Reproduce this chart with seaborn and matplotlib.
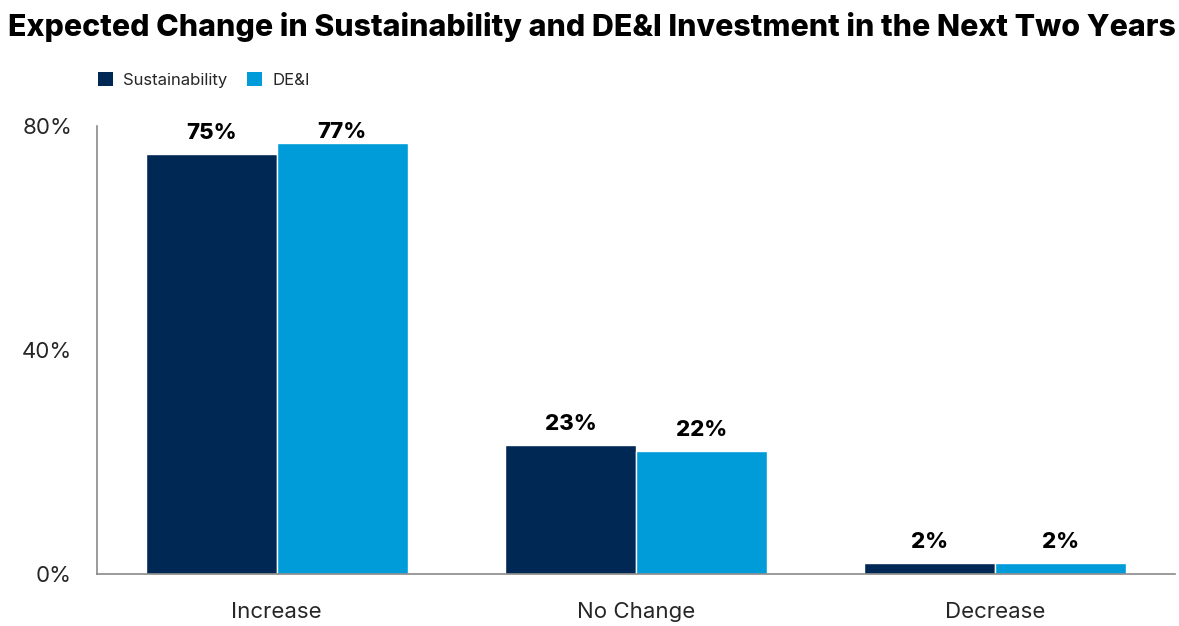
import matplotlib
matplotlib.use("Agg")
import matplotlib.pyplot as plt
import seaborn as sns
import pandas as pd
from matplotlib.patches import Patch

categories = ["Increase", "No Change", "Decrease"]
series_names = ["Sustainability", "DE&I"]
sustainability = [75, 23, 2]
dei = [77, 22, 2]
y_ticks = [0, 40, 80]
y_tick_labels = ["0%", "40%", "80%"]
colors = ["#002855", "#009CDA"]

df = pd.DataFrame({
    "category": categories * 2,
    "series": [series_names[0]] * 3 + [series_names[1]] * 3,
    "value": sustainability + dei,
})

sns.set_theme(style="white")
plt.rcParams['font.family'] = ['Inter', 'DejaVu Sans']

fig = plt.figure(figsize=(11.79, 6.26), dpi=100)
ax = fig.add_axes([97/1179, 1 - 574/626, (1175-97)/1179, (574-126)/626])

sns.barplot(data=df, x="category", y="value", hue="series", order=categories,
            hue_order=series_names, palette=colors, width=0.73, ax=ax,
            edgecolor="white", linewidth=1, legend=False, saturation=1)

# value labels; kept inside the plot area near the top like the original
for container in ax.containers:
    for bar, v in zip(container, container.datavalues):
        xc = bar.get_x() + bar.get_width() / 2
        ax.annotate(f"{v:.0f}%", xy=(xc, min(v, 75.2)), xytext=(0, 15),
                    textcoords="offset points", ha="center", va="center",
                    fontsize=16, fontweight="heavy", color="black")

ax.set_xlim(-0.5, 2.5)
ax.set_ylim(0, 80)
ax.set_yticks(y_ticks)
ax.set_yticklabels(y_tick_labels, fontsize=16)
ax.tick_params(axis="x", labelsize=16, pad=20, length=0)
ax.tick_params(axis="y", pad=18, length=0)
ax.set_xlabel("")
ax.set_ylabel("")
for s in ["top", "right"]:
    ax.spines[s].set_visible(False)
for s in ["left", "bottom"]:
    ax.spines[s].set_color("#8a8a8a")
    ax.spines[s].set_linewidth(1.2)

handles = [Patch(facecolor=c, edgecolor="none") for c in colors]
fig.legend(handles, series_names, loc="center left", bbox_to_anchor=(83/1179, 1 - 80/626),
           ncol=2, frameon=False, fontsize=12, handlelength=0.9, handleheight=0.9,
           handletextpad=0.6, columnspacing=1.2)

fig.text(8/1179, 1 - 27/626, "Expected Change in Sustainability and DE&I Investment in the Next Two Years",
         fontsize=21.8, fontweight="heavy", ha="left", va="center", color="black")

fig.savefig("out.png", dpi=100, facecolor="white")
